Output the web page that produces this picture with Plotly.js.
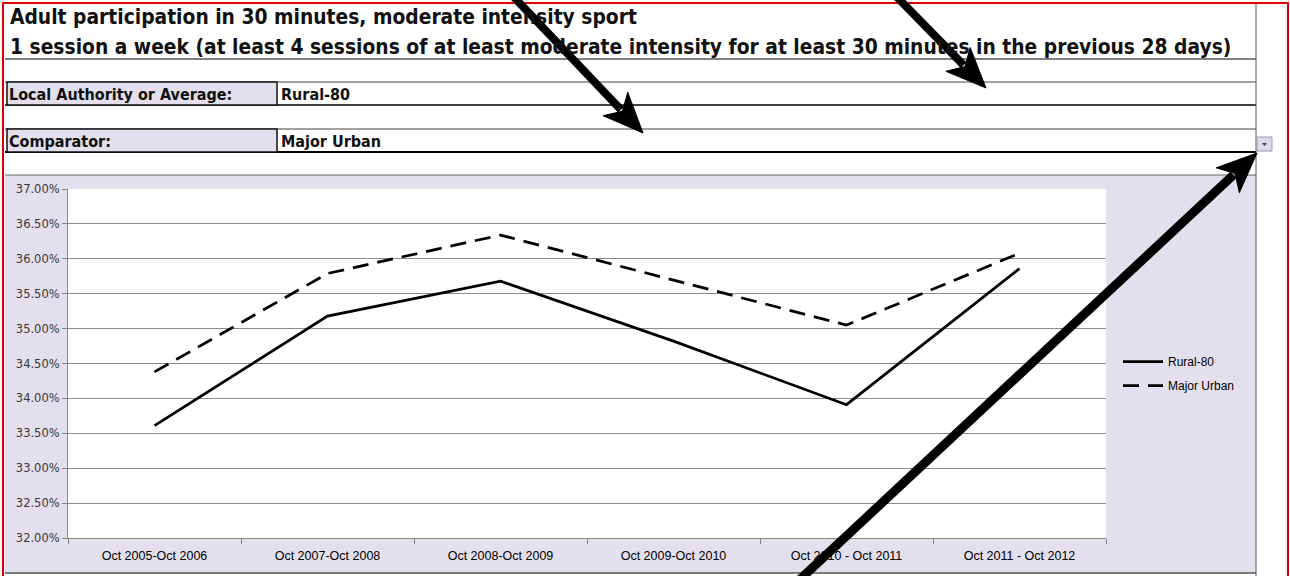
<!DOCTYPE html>
<html><head><meta charset="utf-8">
<script src="https://cdn.plot.ly/plotly-3.0.1.min.js"></script>
<style>html,body{margin:0;padding:0;background:#fff;overflow:hidden}#chart{width:1290px;height:576px}</style>
</head><body><div id="chart"></div>
<script>
// ---- data ----
const periods = ["Oct 2005-Oct 2006","Oct 2007-Oct 2008","Oct 2008-Oct 2009","Oct 2009-Oct 2010","Oct 2010 - Oct 2011","Oct 2011 - Oct 2012"];
const rural80 = [0.3361, 0.3518, 0.3568, 0.3482, 0.3391, 0.3586];
const majorUrban = [0.3438, 0.3579, 0.3634, 0.3570, 0.3505, 0.3608];
const seriesNames = ["Rural-80", "Major Urban"];
const titleLines = ["Adult participation in 30 minutes, moderate intensity sport",
  "1 session a week (at least 4 sessions of at least moderate intensity for at least 30 minutes in the previous 28 days)"];
const fieldLabels = ["Local Authority or Average:", "Comparator:"];
const fieldValues = ["Rural-80", "Major Urban"];

// ---- geometry helpers (pixel -> paper) ----
const L = 68, R = 1106, T = 189, B = 538;
const W = R - L, H = B - T;
const px = x => (x - L) / W;
const py = y => (B - y) / H;
const LAV = '#e4dfec';
const HDR_FONT = 'DejaVu Sans Condensed, DejaVu Sans, sans-serif';

const shapes = [];
function rect(x0, y0, x1, y1, fill, lineColor, lw, layer) {
  shapes.push({type:'rect', xref:'paper', yref:'paper', x0:px(x0), x1:px(x1), y0:py(y0), y1:py(y1),
    fillcolor: fill || 'rgba(0,0,0,0)', line:{color: lineColor || 'rgba(0,0,0,0)', width: lw || 0}, layer: layer || 'below'});
}
function hline(x0, x1, y, color, lw) {
  shapes.push({type:'line', xref:'paper', yref:'paper', x0:px(x0), x1:px(x1), y0:py(y), y1:py(y),
    line:{color, width:lw}, layer:'below'});
}
function vline(x, y0, y1, color, lw, layer) {
  shapes.push({type:'line', xref:'paper', yref:'paper', x0:px(x), x1:px(x), y0:py(y0), y1:py(y1),
    line:{color, width:lw}, layer: layer || 'below'});
}
function pathStr(pts) {
  return 'M ' + pts.map(p => px(p[0]) + ',' + py(p[1])).join(' L ') + ' Z';
}
function arrow(sx, sy, tx, ty, sw) {
  const dx = tx - sx, dy = ty - sy, len = Math.hypot(dx, dy);
  const ux = dx / len, uy = dy / len, nx = -uy, ny = ux;
  const hl = 36, hw = 17;
  const bx = tx - ux * hl, by = ty - uy * hl;
  shapes.push({type:'line', xref:'paper', yref:'paper', x0:px(sx), y0:py(sy), x1:px(bx + ux*4), y1:py(by + uy*4),
    line:{color:'#000', width:sw}, layer:'above'});
  shapes.push({type:'path', xref:'paper', yref:'paper', layer:'above', fillcolor:'#000', line:{color:'#000', width:1},
    path: pathStr([[tx, ty], [bx + nx*hw - ux*4, by + ny*hw - uy*4], [bx + ux*6, by + uy*6], [bx - nx*hw - ux*4, by - ny*hw - uy*4]])});
}

// chart area background
rect(5, 175, 1256, 573, LAV, null, 0);
rect(L, T, R, B, '#ffffff', null, 0);
hline(5, 1256, 573, '#555', 1.5);
// header table
hline(5, 1256, 59, '#000', 1);
hline(5, 1256, 82, '#444', 1);
hline(5, 1256, 105, '#000', 1.5);
hline(5, 1256, 129, '#444', 1);
hline(5, 1256, 152, '#000', 2);
hline(5, 1256, 175, '#666', 1);
rect(7, 82, 277, 105, LAV, '#111', 1.5);
rect(7, 129, 277, 152, LAV, '#111', 1.5);
vline(1256, 3, 576, '#555', 1);
// dropdown button
rect(1257, 137, 1272, 151, '#dcdcea', '#9a9ab4', 1);
shapes.push({type:'path', xref:'paper', yref:'paper', layer:'below', fillcolor:'#3a3a7a', line:{width:0},
  path: pathStr([[1262, 143], [1267, 143], [1264.5, 146]])});
// red outer border
rect(3, 3, 1288, 600, null, '#e00000', 2, 'above');
// arrows
arrow(510, -7, 643, 133, 8);
arrow(894, -6, 986, 88, 8);
arrow(795, 584, 1257, 153, 9);

const annotations = [];
titleLines.forEach((t, i) => annotations.push({xref:'paper', yref:'paper', x:px(8), y:py(17 + 30*i), xanchor:'left', yanchor:'middle',
  text:t, showarrow:false, font:{family:HDR_FONT, size:20.8, color:'#111', weight:'bold'}}));
fieldLabels.forEach((t, i) => annotations.push({xref:'paper', yref:'paper', x:px(7), y:py(94 + 47*i), xanchor:'left', yanchor:'middle',
  text:t, showarrow:false, font:{family:HDR_FONT, size:16, color:'#111', weight:'bold'}}));
fieldValues.forEach((t, i) => annotations.push({xref:'paper', yref:'paper', x:px(279), y:py(94 + 47*i), xanchor:'left', yanchor:'middle',
  text:t, showarrow:false, font:{family:HDR_FONT, size:16, color:'#111', weight:'bold'}}));

const traces = [
  {type:'scatter', mode:'lines', x:periods, y:rural80, name:seriesNames[0], legendgroup:'a',
   line:{color:'#000', width:2.75}},
  {type:'scatter', mode:'lines', x:periods, y:majorUrban, name:seriesNames[1], legendgroup:'b',
   line:{color:'#000', width:2.75, dash:'16px,9px'}}
];

const layout = {
  width:1290, height:576,
  margin:{l:L, r:1290-R, t:T, b:576-B, autoexpand:false},
  paper_bgcolor:'#ffffff', plot_bgcolor:'#ffffff',
  showlegend:true,
  legend:{x:px(1118), y:py(347), xanchor:'left', yanchor:'top', bgcolor:'rgba(0,0,0,0)', itemwidth:40,
    traceorder:'grouped', tracegroupgap:5, font:{family:'Liberation Sans, Arial, sans-serif', size:12, color:'#000'}},
  xaxis:{type:'category', range:[-0.5, 5.5], showline:true, linecolor:'#868686', linewidth:1,
    ticks:'outside', tickson:'boundaries', ticklen:5, tickcolor:'#868686', showgrid:false, zeroline:false,
    ticklabelstandoff:6,
    tickfont:{family:'Liberation Sans, Arial, sans-serif', size:12.5, color:'#000'}, fixedrange:true},
  yaxis:{range:[0.32, 0.37], dtick:0.005, tick0:0.32, tickformat:'.2%', showgrid:true, gridcolor:'#8c8c8c', gridwidth:1,
    showline:true, linecolor:'#868686', linewidth:1, ticks:'outside', ticklen:5, tickcolor:'#868686', zeroline:false,
    tickfont:{family:'DejaVu Sans, Verdana, sans-serif', size:11.5, color:'#383838'}, fixedrange:true},
  shapes, annotations
};

Plotly.newPlot('chart', traces, layout, {displayModeBar:false, staticPlot:true});
</script>
</body></html>
